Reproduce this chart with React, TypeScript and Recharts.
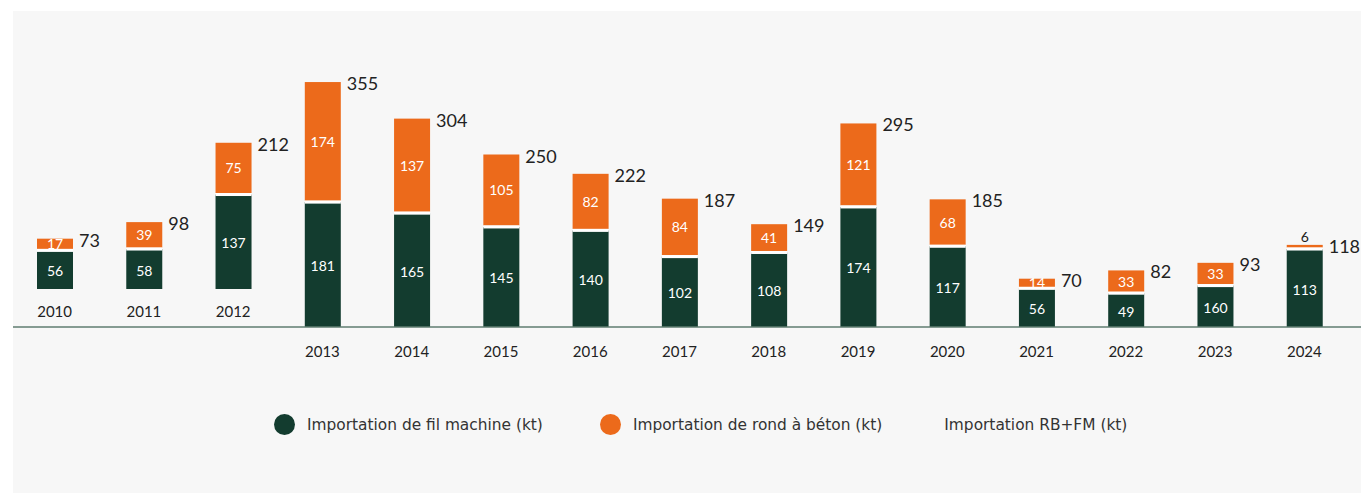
import React from 'react';
import { BarChart, Bar, XAxis, YAxis, LabelList, Legend, ReferenceLine } from 'recharts';

const years = ['2010', '2011', '2012', '2013', '2014', '2015', '2016', '2017', '2018', '2019', '2020', '2021', '2022', '2023', '2024'];
const filMachine = [56, 58, 137, 181, 165, 145, 140, 102, 108, 174, 117, 56, 49, 60, 113];
// label printed on the green segments (2023 reads "160" in the source)
const filMachineLabels = ['56', '58', '137', '181', '165', '145', '140', '102', '108', '174', '117', '56', '49', '160', '113'];
const rondBeton = [17, 39, 75, 174, 137, 105, 82, 84, 41, 121, 68, 14, 33, 33, 6];
const totalRbFm = [73, 98, 212, 355, 304, 250, 222, 187, 149, 295, 185, 70, 82, 93, 118];
// the first three columns float above the axis in the source
const raisedBase = [55, 55, 55, 0, 0, 0, 0, 0, 0, 0, 0, 0, 0, 0, 0];

const GREEN = '#133c2f';
const ORANGE = '#ec6a1b';
const FONT = 'Lato, "Open Sans", sans-serif';
const LEGEND_FONT = '"DejaVu Sans", Verdana, sans-serif';
const GAP = 3;
const TICK_LIFT = 40;

const data = years.map((year, i) => ({
  year,
  base: raisedBase[i],
  filMachine: filMachine[i],
  filMachineLabel: filMachineLabels[i],
  rondBeton: rondBeton[i],
  total: totalRbFm[i],
}));

const box = (p: any) => {
  const vb = p.viewBox && p.viewBox.width !== undefined ? p.viewBox : p;
  return { x: Number(vb.x), y: Number(vb.y), w: Number(vb.width), h: Number(vb.height) };
};

const GreenLabel = (p: any) => {
  const { x, y, w, h } = box(p);
  return (
    <text x={x + w / 2} y={y + h / 2 + 1} fill="#ffffff" fontSize={14} fontFamily={FONT} textAnchor="middle" dominantBaseline="central">
      {p.value}
    </text>
  );
};

const OrangeLabel = (p: any) => {
  const { x, y, w, h } = box(p);
  const small = h < 8;
  return (
    <text
      x={x + w / 2}
      y={small ? y - 8 : y + (h - GAP / 2) / 2}
      fill={small ? '#222222' : '#ffffff'}
      fontSize={14}
      fontFamily={FONT}
      textAnchor="middle"
      dominantBaseline="central"
    >
      {p.value}
    </text>
  );
};

const TotalLabel = (p: any) => {
  const { x, y, w } = box(p);
  return (
    <text x={x + w + 6} y={y + 1} fill="#222222" fontSize={18} fontFamily={FONT} dominantBaseline="central">
      {p.value}
    </text>
  );
};

const OrangeShape = (p: any) => {
  const { x, y, width, height } = p;
  if (!height) return null;
  const bottom = y + height;
  return (
    <g>
      <rect x={x} y={y} width={width} height={Math.max(height - GAP / 2, 0)} fill={ORANGE} />
      <rect x={x} y={bottom - GAP / 2} width={width} height={GAP} fill="#ffffff" />
    </g>
  );
};

const YearTick = (p: any) => {
  const { x, y, payload, index } = p;
  const lift = raisedBase[index] > 0 ? TICK_LIFT : 0;
  return (
    <text x={x} y={y + 24 - lift} fill="#222222" fontSize={15} fontFamily={FONT} textAnchor="middle" dominantBaseline="central">
      {payload.value}
    </text>
  );
};

const legendItems = [
  { label: 'Importation de fil machine (kt)', color: GREEN },
  { label: 'Importation de rond à béton (kt)', color: ORANGE },
  { label: 'Importation RB+FM (kt)', color: '' },
];
const legendGaps = [0, 57, 62];

const ChartLegend = () => (
  <div style={{ display: 'flex', alignItems: 'center', paddingLeft: 274, fontFamily: LEGEND_FONT, fontSize: 15.4, color: '#333333' }}>
    {legendItems.map((item, i) => (
      <div key={item.label} style={{ display: 'flex', alignItems: 'center', marginLeft: legendGaps[i] }}>
        {item.color && (
          <span style={{ width: 21, height: 21, borderRadius: '50%', background: item.color, marginRight: 12, display: 'inline-block' }} />
        )}
        <span>{item.label}</span>
      </div>
    ))}
  </div>
);

const App: React.FC = () => {
  return (
    <div style={{ position: 'absolute', left: 0, top: 0, width: 1361, height: 493, background: '#ffffff' }}>
      <div style={{ position: 'absolute', left: 13, top: 11, right: 0, bottom: 0, background: '#f7f7f7' }} />
      <div style={{ position: 'absolute', left: 0, top: 0 }}>
        <BarChart width={1361} height={493} data={data} margin={{ top: 51, right: 12, bottom: 136, left: 10 }} barSize={36}>
          <XAxis dataKey="year" axisLine={false} tickLine={false} tickSize={0} tickMargin={0} height={30} interval={0} tick={<YearTick />} />
          <YAxis hide domain={[0, 400]} />
          <ReferenceLine
            y={0}
            ifOverflow="visible"
            shape={(p: any) => <line x1={13} x2={1361} y1={p.y1} y2={p.y2} stroke="#5f7d70" strokeWidth={1.5} />}
          />
          <Bar dataKey="base" stackId="a" fill="transparent" isAnimationActive={false} />
          <Bar dataKey="filMachine" stackId="a" fill={GREEN} isAnimationActive={false}>
            <LabelList dataKey="filMachineLabel" content={GreenLabel} />
          </Bar>
          <Bar dataKey="rondBeton" stackId="a" fill={ORANGE} shape={OrangeShape} isAnimationActive={false}>
            <LabelList dataKey="rondBeton" content={OrangeLabel} />
            <LabelList dataKey="total" content={TotalLabel} />
          </Bar>
          <Legend layout="horizontal" verticalAlign="middle" align="center" wrapperStyle={{ top: 414, left: 0, width: 1361 }} content={ChartLegend} />
        </BarChart>
      </div>
    </div>
  );
};

export default App;
